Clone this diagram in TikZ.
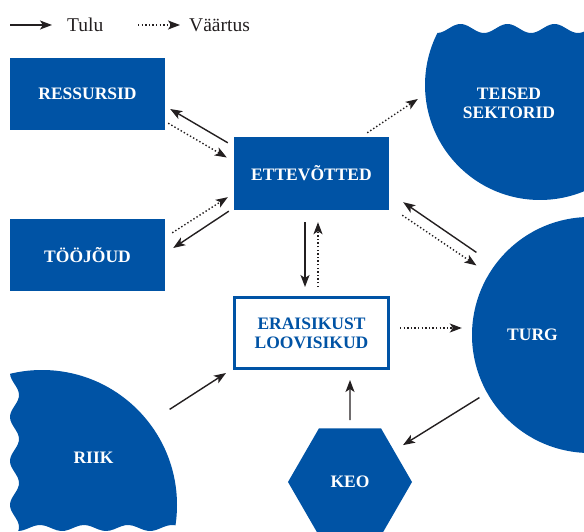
\documentclass[tikz,border=0pt]{standalone}
\usepackage{fontspec}
\setmainfont{Liberation Serif}
\usetikzlibrary{arrows.meta}
\usetikzlibrary{shapes.geometric}
\definecolor{keoblue}{RGB}{0,83,165}
\definecolor{inkgray}{RGB}{35,31,32}
\newcommand{\lblfont}{\fontsize{17.5}{19}\selectfont\bfseries}

\begin{document}
\begin{tikzpicture}[x=1pt,y=-1pt,
>={Stealth[length=12pt,width=9pt,inset=3pt]},
box/.style={rectangle, fill=keoblue, text=white, font=\lblfont, minimum width=155pt, minimum height=72pt, inner sep=0pt},
blob/.style={fill=keoblue, draw=none, inner sep=0pt},
lbl/.style={text=white, font=\lblfont, align=center},
legend/.style={text=inkgray, font=\fontsize{19.5}{22}\selectfont, anchor=west, inner sep=0pt}]
\tikzstyle{tulu} = [->, line width=1.4pt, inkgray]
\tikzstyle{vaartus} = [->, line width=1.4pt, inkgray, dash pattern=on 1.4pt off 2.2pt]

\useasboundingbox (0,0) rectangle (584,532);
\clip (0,0) rectangle (584,532);

% legend
\node[legend] (tuluT) at (67,25) {Tulu};
\node[legend] (vaartusT) at (189,25) {Väärtus};
\draw[tulu] ([xshift=-57pt]tuluT.west) -- ([xshift=-15pt]tuluT.west);
\draw[vaartus] ([xshift=-51pt]vaartusT.west) -- ([xshift=-9pt]vaartusT.west);

% boxes
\node[box] (res) at (87.5,94) {RESSURSID};
\node[box] (too) at (87.5,255) {TÖÖJÕUD};
\node[box, minimum height=73pt] (ette) at (311.5,173.5) {ETTEVÕTTED};
\node[box, fill=white, draw=keoblue, line width=3pt, text=keoblue, minimum width=154pt,
  minimum height=71pt, align=center] (era) at (311.5,333) {ERAISIKUST\\LOOVISIKUD};

% wavy circles
\begin{scope}
\clip plot[domain=420:600, samples=80] (\x,{28.5+4.5*cos((\x-437)*7.66)}) -- (600,300) -- (420,300) -- cycle;
\node[blob, circle, minimum size=230pt] (teised) at (540,85) {};
\end{scope}
\node[lbl] (teisedT) at (509,103) {TEISED\\SEKTORID};

\node[blob, circle, minimum size=236pt] (turg) at (590,335) {};
\node[lbl] (turgT) at (532.5,335) {TURG};

\begin{scope}
\clip plot[domain=340:545, samples=80, variable=\t] ({14.5-4.5*cos((\t-373)*8.18)},\t) -- (300,545) -- (300,340) -- cycle;
\clip plot[domain=0:300, samples=80] (\x,{528-3*cos((\x-40)*8.18)}) -- (300,340) -- (0,340) -- cycle;
\node[blob, circle, minimum size=270pt] (riik) at (42,505) {};
\end{scope}
\node[lbl] (riikT) at (93.5,457.5) {RIIK};

\node[blob, lbl, regular polygon, regular polygon sides=6, minimum size=124pt] (keo) at (350,482) {KEO};

% arrows
\draw[tulu] ([xshift=-6pt,yshift=-6pt]ette.north west) -- ([xshift=5pt,yshift=-15pt]res.east);
\draw[vaartus] ([xshift=3pt,yshift=7pt]res.south east) -- ([xshift=-7pt,yshift=16pt]ette.west);
\draw[vaartus] ([xshift=7pt,yshift=-14pt]too.north east) -- ([xshift=-6pt,yshift=13pt]ette.south west);
\draw[tulu] ([xshift=-5pt,yshift=-1pt]ette.south west) -- ([xshift=8pt,yshift=7pt]too.east);
\draw[tulu] ([xshift=-6.5pt,yshift=-12pt]ette.south) -- ([xshift=-6.5pt,yshift=9pt]era.north);
\draw[vaartus] ([xshift=6.5pt,yshift=9pt]era.north) -- ([xshift=6.5pt,yshift=-12pt]ette.south);
\draw[vaartus] ([xshift=-22pt,yshift=4pt]ette.north east) -- ([xshift=-7pt,yshift=-14pt]teised.west);
\draw[tulu] ([xshift=-30pt,yshift=-1pt]turg.north west) -- ([xshift=14pt,yshift=8pt]ette.south east);
\draw[vaartus] ([xshift=13pt,yshift=-5pt]ette.south east) -- ([xshift=-30pt,yshift=-14pt]turg.north west);
\draw[vaartus] ([xshift=10pt,yshift=5pt]era.east) -- ([xshift=-10pt,yshift=7pt]turg.west);
\draw[tulu] ([xshift=-27pt,yshift=21pt]turg.south west) -- ([xshift=53pt,yshift=-17pt]keo.north);
\draw[tulu] ([yshift=8pt]keo.north) -- ([xshift=38.5pt,yshift=-10pt]era.south);
\draw[tulu] ([xshift=32pt]riik.north east) -- ([xshift=-7pt,yshift=-3pt]era.south west);
\end{tikzpicture}
\end{document}
